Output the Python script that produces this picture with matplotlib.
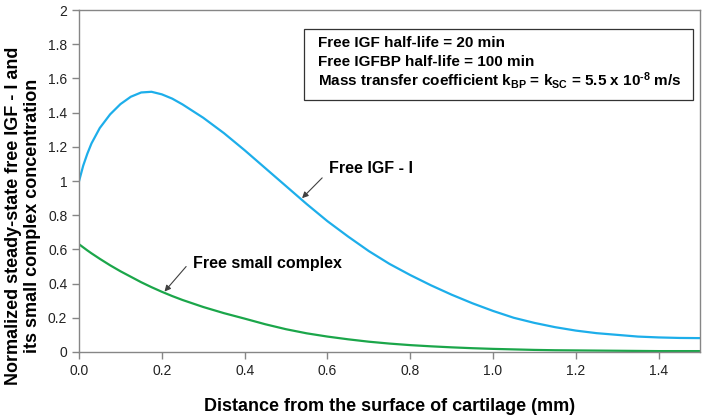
import matplotlib
matplotlib.use("Agg")
import matplotlib.pyplot as plt
from matplotlib.patches import Rectangle

plt.rcParams['font.family'] = ['Liberation Sans', 'DejaVu Sans']
plt.rcParams['mathtext.fontset'] = 'custom'
plt.rcParams['mathtext.rm'] = 'Liberation Sans:bold'
plt.rcParams['mathtext.it'] = 'Liberation Sans:bold'
plt.rcParams['mathtext.bf'] = 'Liberation Sans:bold'
plt.rcParams['mathtext.default'] = 'rm'

# distance from cartilage surface (mm)
distance = [0.0, 0.01, 0.02, 0.03, 0.05, 0.075, 0.1, 0.125, 0.15, 0.175, 0.2, 0.225, 0.25, 0.3,
            0.35, 0.4, 0.45, 0.5, 0.55, 0.6, 0.65, 0.7, 0.75, 0.8, 0.85, 0.9,
            0.95, 1.0, 1.05, 1.1, 1.15, 1.2, 1.25, 1.3, 1.35, 1.4, 1.45, 1.5]
free_igf = [1.0, 1.09, 1.16, 1.22, 1.31, 1.39, 1.45, 1.493, 1.518, 1.522, 1.507, 1.482, 1.448, 1.37,
            1.28, 1.18, 1.075, 0.97, 0.865, 0.765, 0.675, 0.59, 0.515, 0.45, 0.39, 0.335,
            0.285, 0.24, 0.2, 0.17, 0.145, 0.125, 0.11, 0.1, 0.09, 0.085, 0.082, 0.081]
free_small = [0.63, 0.612, 0.594, 0.577, 0.545, 0.507, 0.472, 0.44, 0.408, 0.379, 0.352, 0.327, 0.304, 0.263,
              0.227, 0.195, 0.162, 0.133, 0.109, 0.09, 0.074, 0.06, 0.049, 0.04, 0.033, 0.027,
              0.022, 0.018, 0.015, 0.012, 0.01, 0.009, 0.008, 0.007, 0.006, 0.005, 0.005, 0.005]

info_lines = ["Free IGF half-life = 20 min",
              "Free IGFBP half-life = 100 min",
              r"Mass transfer coefficient k$_{BP}$ = k$_{SC}$ = 5.5 x 10$^{\text{-8}}$ m/s"]

fig = plt.figure(figsize=(7.06, 4.2), dpi=100)
ax = fig.add_axes([0.112, 0.162, 0.8795, 0.814])

ax.plot(distance, free_igf, color='#1DAEEA', lw=1.6)
ax.plot(distance, free_small, color='#1BA64A', lw=1.6)

ax.set_xlim(0, 1.5)
ax.set_ylim(0, 2)
ax.set_xticks([0.0, 0.2, 0.4, 0.6, 0.8, 1.0, 1.2, 1.4])
ax.set_xticklabels(["0.0", "0.2", "0.4", "0.6", "0.8", "1.0", "1.2", "1.4"])
ax.set_yticks([0, 0.2, 0.4, 0.6, 0.8, 1, 1.2, 1.4, 1.6, 1.8, 2])
ax.set_yticklabels(["0", "0.2", "0.4", "0.6", "0.8", "1", "1.2", "1.4", "1.6", "1.8", "2"])
ax.tick_params(direction='out', length=5, width=1, color='#868686', labelsize=10, labelcolor='#222222')
for s in ax.spines.values():
    s.set_color('#868686')
    s.set_linewidth(1)

# info box
ax.add_patch(Rectangle((0.363, 0.737), 0.6265, 0.2066, transform=ax.transAxes,
                       fill=False, edgecolor='#333333', lw=0.9))
for i, line in enumerate(info_lines):
    ax.text(0.385, 0.9026 - i * 0.0537, line, transform=ax.transAxes, fontsize=11,
            fontweight='bold', ha='left', va='center')

# curve labels
ax.annotate("", xy=(0.534, 0.888), xytext=(0.592, 1.03),
            arrowprops=dict(arrowstyle='-|>', color='#404040', lw=0.8, mutation_scale=9))
ax.text(0.604, 1.073, "Free IGF - I", fontsize=11.5, fontweight='bold', ha='left', va='center')
ax.annotate("", xy=(0.202, 0.341), xytext=(0.263, 0.512),
            arrowprops=dict(arrowstyle='-|>', color='#404040', lw=0.8, mutation_scale=9))
ax.text(0.275, 0.52, "Free small complex", fontsize=11.5, fontweight='bold', ha='left', va='center')

fig.text(0.552, 0.033, "Distance from the surface of cartilage (mm)", fontsize=13,
         fontweight='bold', ha='center', va='center')
fig.text(0.032, 0.487, "Normalized steady-state free IGF - I and\nits small complex concentration",
         fontsize=13, fontweight='bold', ha='center', va='center', rotation=90, linespacing=1.15)

fig.savefig("out.png", dpi=100)
